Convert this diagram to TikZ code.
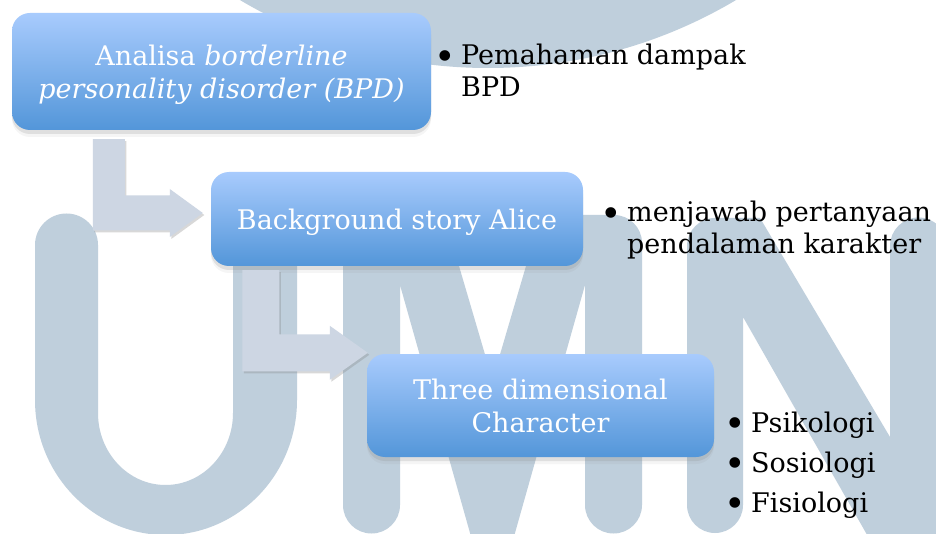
\documentclass[tikz,border=0pt]{standalone}
\usepackage{fontspec}
\setmainfont{DejaVu Serif}
\usepackage{tikz}
\usetikzlibrary{positioning,calc,shadows}

\definecolor{logogray}{HTML}{BFCFDC}
\definecolor{arrowgray}{HTML}{CDD6E3}
\definecolor{boxtop}{HTML}{A8CBFD}
\definecolor{boxbottom}{HTML}{5396D9}

\newcommand{\dotmark}{\makebox[27pt][l]{\raisebox{-4.5pt}{\scalebox{1.35}{\textbullet}}}}

\begin{document}
\begin{tikzpicture}[
        x=1pt, y=-1pt,
        % background logo letters
        umnlogo/.style={fill=logogray},
        % bent flow arrows
        bentarrow/.style={
            fill=arrowgray,
            drop shadow={shadow xshift=1.5pt, shadow yshift=-2pt, opacity=0.3}
        },
        % step boxes
        stepbox/.style={
            rounded corners=18pt,
            top color=boxtop,
            bottom color=boxbottom,
            text=white,
            align=center,
            inner sep=0pt,
            text depth=0pt,
            font=\fontsize{27}{33}\selectfont,
            drop shadow={shadow xshift=0pt, shadow yshift=-7pt, opacity=0.08},
            drop shadow={shadow xshift=0pt, shadow yshift=-4pt, opacity=0.18}
        },
        % bullet notes
        bullettext/.style={
            anchor=base west,
            inner sep=0pt,
            font=\fontsize{27}{32}\selectfont
        }
    ]
    \useasboundingbox (0,0) rectangle (936,534);
    \clip (0,0) rectangle (936,534);
    \fill[white] (0,0) rectangle (936,534);

    % LOGO IN THE BACKGROUND
    \fill[umnlogo] (488,-418) circle[radius=486pt];
    % U
    \fill[umnlogo] (35,245) arc[start angle=180, end angle=0, radius=31.5pt]
        -- (98,413) arc[start angle=180, end angle=360, x radius=67.5pt, y radius=72pt]
        -- (233,245) arc[start angle=180, end angle=0, radius=32pt]
        -- (297,400) arc[start angle=0, end angle=-180, x radius=131pt, y radius=135pt]
        -- cycle;
    % M
    \fill[umnlogo] (343,505) -- (343,243) arc[start angle=180, end angle=90, radius=28pt]
        -- (444,215) -- (492.5,380) -- (541,215)
        -- (614,215) arc[start angle=90, end angle=0, radius=28pt]
        -- (642,505) arc[start angle=0, end angle=-180, radius=28.5pt]
        -- (585,285) -- (513,540) -- (472,540) -- (400,285)
        -- (400,505) arc[start angle=0, end angle=-180, radius=28.5pt]
        -- cycle;
    % N
    \fill[umnlogo] (687,505) -- (687,246) arc[start angle=180, end angle=90, radius=28pt]
        -- (760,218) -- (890,437)
        -- (890,246) arc[start angle=180, end angle=0, radius=28.5pt]
        -- (947,540) -- (870,540) -- (743,317)
        -- (743,505) arc[start angle=0, end angle=-180, radius=28pt]
        -- cycle;

    % THE THREE STEPS
    \node[stepbox, minimum width=419pt, minimum height=117pt] (analisa) at (221.5,71.5)
        {Analisa \textit{borderline}\\\textit{personality disorder (BPD)}};
    \node[stepbox, minimum width=372pt, minimum height=94pt] (story) at (397,219)
        {Background story Alice};
    \node[stepbox, minimum width=347pt, minimum height=103pt] (dimensi) at (540.5,405.5)
        {Three dimensional\\Character};

    % BENT ARROWS BETWEEN THE STEPS
    \coordinate (a1) at ($(analisa.south west)+(97,9)$);
    \coordinate (t1) at ($(story.west)+(-8,-6)$);
    \fill[bentarrow] ($(a1)+(-16,0)$) -- ($(a1)+(16,0)$) -- ($(a1|-t1)+(16,-17.5)$)
        -- ($(t1)+(-33,-17.5)$) -- ($(t1)+(-33,-24)$) -- (t1)
        -- ($(t1)+(-33,24)$) -- ($(t1)+(-33,17.5)$) -- ($(a1|-t1)+(-16,17.5)$) -- cycle;

    \coordinate (a2) at ($(story.south west)+(50,4)$);
    \coordinate (t2) at ($(dimensi.north west)+(1,-1)$);
    \fill[bentarrow] ($(a2)+(-18.5,0)$) -- ($(a2)+(18.5,0)$) -- ($(a2|-t2)+(18.5,-18.5)$)
        -- ($(t2)+(-38,-18.5)$) -- ($(t2)+(-38,-27)$) -- (t2)
        -- ($(t2)+(-38,27)$) -- ($(t2)+(-38,18.5)$) -- ($(a2|-t2)+(-18.5,18.5)$) -- cycle;

    % NOTES NEXT TO THE STEPS
    \node[bullettext] (dampak) at (434,65)
        {\begin{tabular}[t]{@{}l@{}l@{}}\dotmark&Pemahaman dampak\\&BPD\end{tabular}};
    \node[bullettext] (tanya) at (600,222)
        {\begin{tabular}[t]{@{}l@{}l@{}}\dotmark&menjawab pertanyaan\\&pendalaman karakter\end{tabular}};
    \node[bullettext] (aspek) at (724,432)
        {\begin{tabular}[t]{@{}l@{}l@{}}\dotmark&Psikologi\\[8pt]
         \dotmark&Sosiologi\\[8pt]
         \dotmark&Fisiologi\end{tabular}};

\end{tikzpicture}
\end{document}
